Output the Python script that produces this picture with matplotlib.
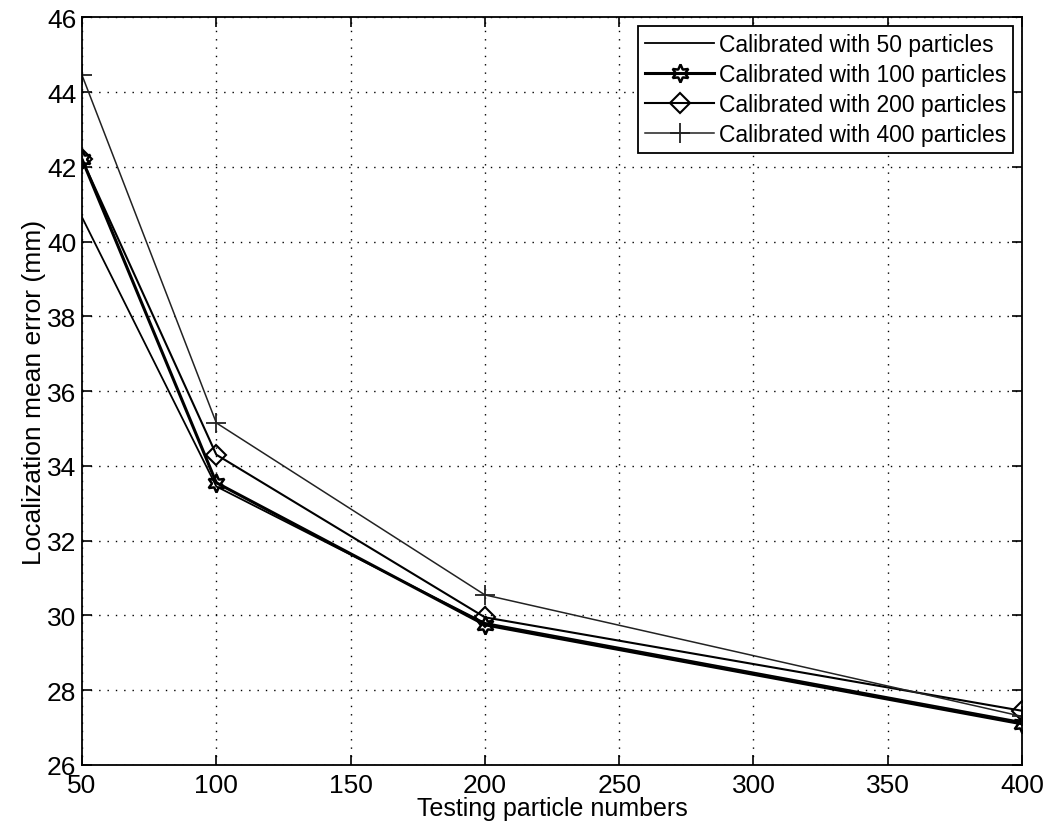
import numpy as np
import matplotlib
matplotlib.use('Agg')
import matplotlib.pyplot as plt

plt.rcParams['font.family'] = ['Liberation Sans', 'DejaVu Sans']

test_particles = [50, 100, 200, 400]
cal_50 = [40.65, 33.45, 29.8, 27.15]
cal_100 = [42.2, 33.55, 29.75, 27.1]
cal_200 = [42.2, 34.3, 29.95, 27.45]
cal_400 = [44.45, 35.15, 30.55, 27.3]

labels = ['Calibrated with 50 particles', 'Calibrated with 100 particles',
          'Calibrated with 200 particles', 'Calibrated with 400 particles']

fig = plt.figure(figsize=(10.45, 8.29), dpi=100)
ax = fig.add_axes([0.0785, 0.076, 0.8995, 0.902])

ax.plot(test_particles, cal_50, color='black', lw=1.3, label=labels[0])
ax.plot(test_particles, cal_100, color='black', lw=2.2, marker=(6, 1, 0),
        markersize=13, markerfacecolor='none', markeredgewidth=1.8, label=labels[1])
ax.plot(test_particles, cal_200, color='black', lw=1.5, marker='D',
        markersize=10, markerfacecolor='none', markeredgewidth=1.5, label=labels[2])
ax.plot(test_particles, cal_400, color='#222222', lw=1.1, marker='+',
        markersize=14, markeredgewidth=1.3, label=labels[3])

ax.set_xlim(50, 400)
ax.set_ylim(26, 46)
ax.set_xticks([50, 100, 150, 200, 250, 300, 350, 400])
ax.set_yticks(np.arange(26, 47, 2))
ax.tick_params(direction='in', labelsize=19, length=7, width=1.2, top=True, right=True)
ax.tick_params(axis='x', pad=6)
ax.tick_params(axis='y', pad=4)
ax.grid(True, linestyle=(0, (1, 5)), color='black', lw=1.0)
for s in ax.spines.values():
    s.set_linewidth(1.3)

ax.set_xlabel('Testing particle numbers', fontsize=18, labelpad=-1)
ax.set_ylabel('Localization mean error (mm)', fontsize=19, labelpad=1)

leg = ax.legend(loc='upper right', fontsize=16.5, fancybox=False, framealpha=1,
                edgecolor='black', borderaxespad=0.4, handlelength=3.0,
                handletextpad=0.2, labelspacing=0.3, borderpad=0.3)
leg.get_frame().set_linewidth(1.3)

fig.savefig('out.png', dpi=100)
